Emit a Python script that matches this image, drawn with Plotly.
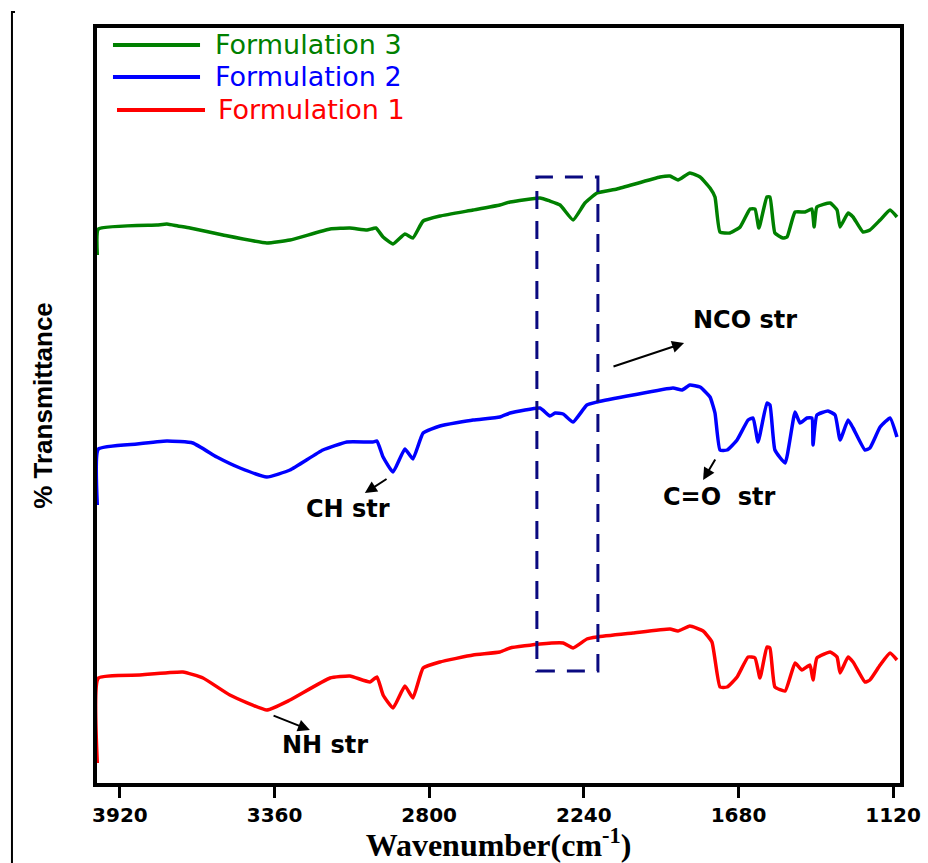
import plotly.graph_objects as go

# FTIR spectra of three polyurethane formulations (stacked, offset transmittance)
series_names = ["Formulation 1", "Formulation 2", "Formulation 3"]
series_colors = ["#ff0000", "#0000ff", "#008000"]

wn_f1 = [4002, 3998, 3848, 3692, 3619, 3522, 3388, 3304, 3159, 3087,
         3015, 2989, 2967, 2931, 2888, 2859, 2822, 2761, 2641, 2544,
         2507, 2399, 2315, 2279, 2229, 2192, 2062, 1928, 1899, 1856,
         1808, 1776, 1747, 1721, 1685, 1645, 1620, 1602, 1577, 1566,
         1548, 1511, 1475, 1450, 1421, 1410, 1396, 1348, 1323, 1312,
         1283, 1265, 1222, 1204, 1167, 1131, 1106]
t_f1 = [2.0, 10.5, 10.8, 11.1, 10.5, 8.8, 7.3, 8.3, 10.5, 10.7,
        10.1, 10.6, 8.8, 7.5, 9.7, 8.5, 11.5, 12.1, 12.8, 13.1,
        13.5, 13.9, 14.0, 13.5, 14.4, 14.6, 15.0, 15.4, 15.2, 15.7,
        15.2, 14.1, 9.6, 9.6, 10.6, 12.6, 12.5, 10.5, 13.6, 13.5,
        9.6, 9.2, 12.0, 11.3, 11.8, 10.3, 12.5, 13.1, 12.6, 11.0,
        12.6, 12.1, 10.1, 10.3, 11.8, 13.0, 12.3]

wn_f2 = [4002, 3998, 3858, 3750, 3656, 3569, 3485, 3388, 3304, 3185,
         3098, 3004, 2989, 2967, 2931, 2888, 2859, 2822, 2761, 2641,
         2544, 2507, 2399, 2363, 2344, 2315, 2279, 2229, 2192, 2062,
         1917, 1884, 1856, 1819, 1783, 1765, 1747, 1721, 1685, 1645,
         1627, 1609, 1577, 1566, 1548, 1511, 1475, 1457, 1432, 1414,
         1410, 1396, 1356, 1330, 1312, 1283, 1265, 1222, 1204, 1167,
         1131, 1106]
t_f2 = [27.8, 33.4, 33.9, 34.2, 34.0, 32.6, 31.5, 30.6, 31.3, 33.3,
        34.1, 34.1, 34.2, 32.6, 31.1, 33.4, 32.4, 35.0, 35.7, 36.3,
        36.6, 37.0, 37.5, 36.7, 37.0, 36.9, 36.1, 37.8, 38.1, 38.8,
        39.5, 39.3, 39.8, 39.6, 38.6, 37.0, 33.3, 33.3, 34.3, 36.3,
        36.5, 34.1, 38.0, 37.8, 33.3, 32.0, 37.1, 36.0, 36.5, 36.5,
        33.8, 36.8, 37.2, 36.8, 34.3, 36.3, 35.5, 33.3, 33.5, 35.6,
        36.5, 34.6]

wn_f3 = [4002, 3998, 3786, 3750, 3710, 3666, 3547, 3388, 3304, 3159,
         3087, 3025, 2993, 2967, 2931, 2888, 2859, 2822, 2761, 2641,
         2544, 2507, 2399, 2363, 2326, 2279, 2236, 2192, 2120, 1964,
         1928, 1899, 1856, 1819, 1783, 1765, 1747, 1711, 1674, 1638,
         1620, 1606, 1577, 1566, 1548, 1519, 1504, 1475, 1439, 1414,
         1406, 1396, 1348, 1323, 1312, 1283, 1265, 1229, 1204, 1167,
         1131, 1106]
t_f3 = [52.8, 55.4, 55.8, 55.9, 55.7, 55.5, 54.8, 54.0, 54.3, 55.4,
        55.5, 55.3, 55.5, 54.6, 53.9, 54.9, 54.5, 56.2, 56.7, 57.3,
        57.8, 58.1, 58.5, 58.2, 57.8, 56.3, 58.0, 59.0, 59.4, 60.6,
        60.7, 60.3, 61.0, 60.6, 59.5, 58.6, 55.1, 55.0, 55.6, 57.4,
        57.4, 55.5, 58.6, 58.6, 55.0, 54.5, 54.6, 57.1, 57.1, 57.4,
        55.6, 57.6, 58.0, 57.3, 55.6, 57.0, 56.6, 55.1, 55.3, 56.3,
        57.3, 56.6]

x_ticks = [3920, 3360, 2800, 2240, 1680, 1120]

spectra = [(wn_f1, t_f1), (wn_f2, t_f2), (wn_f3, t_f3)]

fig = go.Figure()
for (wn, t), name, color in zip(spectra, series_names, series_colors):
    fig.add_trace(go.Scatter(
        x=wn, y=t, mode="lines", name=name,
        line=dict(color=color, width=3.5, shape="spline", smoothing=0.4),
        showlegend=False,
    ))

SANS = "DejaVu Sans"
shapes = []
annotations = []

# Hand-drawn legend block (top-left, Formulation 3 on top)
legend_rows = [(2, 0.9775, 0.0199, 0.1283, 0.1445),
               (1, 0.9351, 0.0199, 0.1283, 0.1445),
               (0, 0.8914, 0.0249, 0.1345, 0.1482)]
for idx, yy, lx0, lx1, tx in legend_rows:
    shapes.append(dict(type="line", xref="paper", yref="paper",
                       x0=lx0, x1=lx1, y0=yy, y1=yy,
                       line=dict(color=series_colors[idx], width=4)))
    annotations.append(dict(xref="paper", yref="paper", x=tx, y=yy,
                            xanchor="left", yanchor="middle", showarrow=False,
                            text=series_names[idx],
                            font=dict(family=SANS, size=27, color=series_colors[idx])))

# Dashed box around the isocyanate region
shapes.append(dict(type="rect", xref="x", yref="y", x0=2410, x1=2189, y0=11.2, y1=60.6,
                   line=dict(color="#0a0a80", width=3, dash="18px,12px"), layer="above"))

# Thin bracket line at the far left of the page
shapes.append(dict(type="path", xref="paper", yref="paper",
                   path="M -0.1021 1.0212 L -0.1059 1.0212 L -0.1059 -0.11",
                   line=dict(color="black", width=2)))

# Band labels
label_font = dict(family=SANS, size=24, color="black", weight="bold")
for txt, x, y in [("NCO str", 1656, 46.3), ("CH str", 3094, 27.4),
                  ("C=O\u00a0 str", 1747, 28.6), ("NH str", 3177, 3.8)]:
    annotations.append(dict(x=x, y=y, xref="x", yref="y", text=txt, showarrow=False,
                            font=label_font, xanchor="center", yanchor="middle"))

# Arrows (head at x, y; tail at ax, ay)
for hx, hy, tx, ty in [(1877, 44.0, 2138, 41.6), (3033, 29.0, 2949, 30.5),
                       (1808, 30.3, 1761, 32.5), (3232, 5.3, 3369, 6.8)]:
    annotations.append(dict(x=hx, y=hy, ax=tx, ay=ty, xref="x", yref="y",
                            axref="x", ayref="y", text="", showarrow=True,
                            arrowhead=2, arrowsize=1.2, arrowwidth=2, arrowcolor="black"))

fig.update_layout(
    width=928, height=863,
    margin=dict(l=97, r=28, t=28, b=80, autoexpand=False),
    paper_bgcolor="white", plot_bgcolor="white",
    shapes=shapes, annotations=annotations,
    xaxis=dict(
        range=[4003, 1095], tickvals=x_ticks, ticktext=[str(v) for v in x_ticks],
        ticks="outside", ticklen=11, tickwidth=3, tickcolor="black",
        showline=True, linewidth=3.5, linecolor="black", mirror=True,
        showgrid=False, zeroline=False, automargin=False,
        tickfont=dict(family=SANS, size=20, color="black", weight="bold"),
        title=dict(text="Wavenumber(cm<sup>-1</sup>)", standoff=20,
                   font=dict(family="Liberation Serif", size=32, color="black", weight="bold")),
    ),
    yaxis=dict(
        range=[0, 75.5], showticklabels=False, ticks="",
        showline=True, linewidth=3.5, linecolor="black", mirror=True,
        showgrid=False, zeroline=False, automargin=False,
        title=dict(text="% Transmittance", standoff=34,
                   font=dict(family="Liberation Sans", size=26, color="black", weight="bold")),
    ),
)

fig.write_html("out.html")
